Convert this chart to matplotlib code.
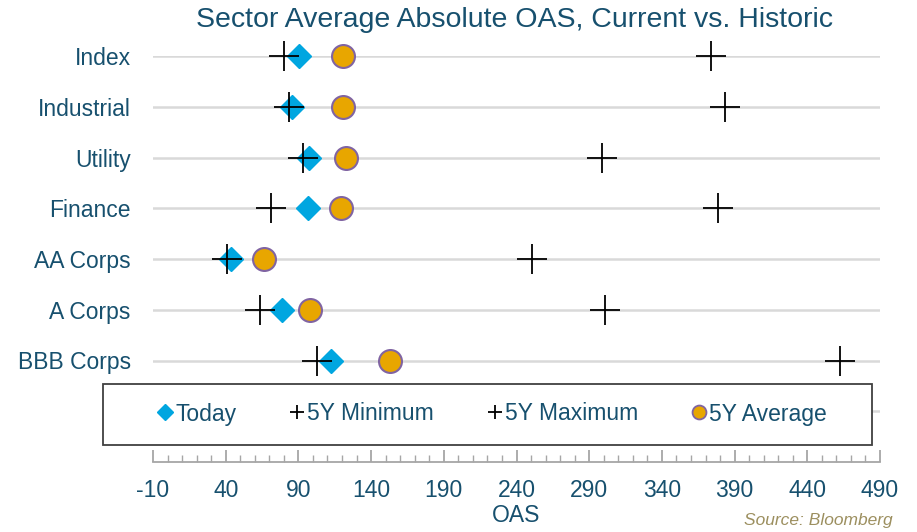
import matplotlib
matplotlib.use("Agg")
import numpy as np
import matplotlib.pyplot as plt
from matplotlib.lines import Line2D
from matplotlib.patches import Rectangle

plt.rcParams['font.family'] = ['Liberation Sans', 'DejaVu Sans']
plt.rcParams['axes.unicode_minus'] = False

# data
sectors = ['Index', 'Industrial', 'Utility', 'Finance', 'AA Corps', 'A Corps', 'BBB Corps']
today = [90.4, 85.4, 97.1, 96.4, 43.6, 78.7, 112.4]
min_5y = [80.3, 83.3, 93.4, 71.2, 40.9, 63.6, 102.6]
max_5y = [373.6, 383.6, 298.8, 378.8, 250.7, 301.0, 462.5]
avg_5y = [120.9, 120.9, 122.7, 119.1, 66.6, 97.8, 152.8]
ypos = [8, 7, 6, 5, 4, 3, 2]
xticks = np.arange(-10, 491, 50)

text_col = '#17506E'
blue = '#00A6E0'
gold = '#E8A600'
purple = '#8064A2'
fs = 16.5

fig = plt.figure(figsize=(9.17, 5.32), dpi=100)
ax = fig.add_axes([153 / 917, 1 - 462 / 532, 727 / 917, 406 / 532])

ax.plot(today, ypos, 'D', color=blue, ms=12.5, ls='none', zorder=3, clip_on=False)
ax.plot(min_5y, ypos, '+', color='black', ms=21, mew=1.3, ls='none', zorder=4, clip_on=False)
ax.plot(max_5y, ypos, '+', color='black', ms=21, mew=1.3, ls='none', zorder=4, clip_on=False)
ax.plot(avg_5y, ypos, 'o', mfc=gold, mec=purple, mew=1.5, ms=16.5, ls='none', zorder=3, clip_on=False)

ax.set_xlim(-10, 490)
ax.set_ylim(0, 8)
ax.set_xticks(xticks)
ax.set_xticks(np.arange(-10, 491, 10), minor=True)
ax.set_yticks([1] + ypos)
ax.set_yticklabels([''] + sectors)
ax.set_axisbelow(True)
ax.grid(True, axis='y', color='#D9D9D9', lw=1.8)

for s in ['top', 'right', 'left']:
    ax.spines[s].set_visible(False)
ax.spines['bottom'].set_color('#A6A6A6')
ax.spines['bottom'].set_linewidth(1.3)

ax.tick_params(axis='x', which='major', direction='in', length=9, width=1.3,
               color='#A6A6A6', pad=12, labelsize=fs, labelcolor=text_col)
ax.tick_params(axis='x', which='minor', direction='in', length=5, width=1,
               color='#A6A6A6')
ax.tick_params(axis='y', length=0, pad=16, labelsize=fs, labelcolor=text_col)

ax.set_xlabel('OAS', fontsize=fs, color=text_col, labelpad=2)

fig.text(515 / 917, 1 - 20 / 532, 'Sector Average Absolute OAS, Current vs. Historic',
         ha='center', va='center', fontsize=20.5, color=text_col)
fig.text(893 / 917, 1 - 521 / 532, 'Source: Bloomberg', ha='right', va='center',
         fontsize=12.5, style='italic', color='#9C8F5F')

# legend box drawn over the plot area
box = Rectangle((103 / 917, 1 - 445 / 532), 769 / 917, 61 / 532,
                transform=fig.transFigure, facecolor='white',
                edgecolor='#404040', lw=1.3, zorder=4)
fig.patches.append(box)

handles = [
    Line2D([], [], marker='D', color=blue, ms=8, ls='none'),
    Line2D([], [], marker='+', color='black', ms=10, mew=1.3, ls='none'),
    Line2D([], [], marker='+', color='black', ms=10, mew=1.3, ls='none'),
    Line2D([], [], marker='o', mfc=gold, mec=purple, mew=1.3, ms=10, ls='none'),
]
labels = ['Today', '5Y Minimum', '5Y Maximum', '5Y Average']
leg = fig.legend(handles, labels, ncol=4, loc='center',
                 bbox_to_anchor=(492 / 917, 1 - 414 / 532),
                 frameon=False, fontsize=fs, handlelength=0.7,
                 handletextpad=0.1, columnspacing=2.3, labelcolor=text_col)
leg.set_zorder(6)

fig.savefig('out.png', dpi=100)
